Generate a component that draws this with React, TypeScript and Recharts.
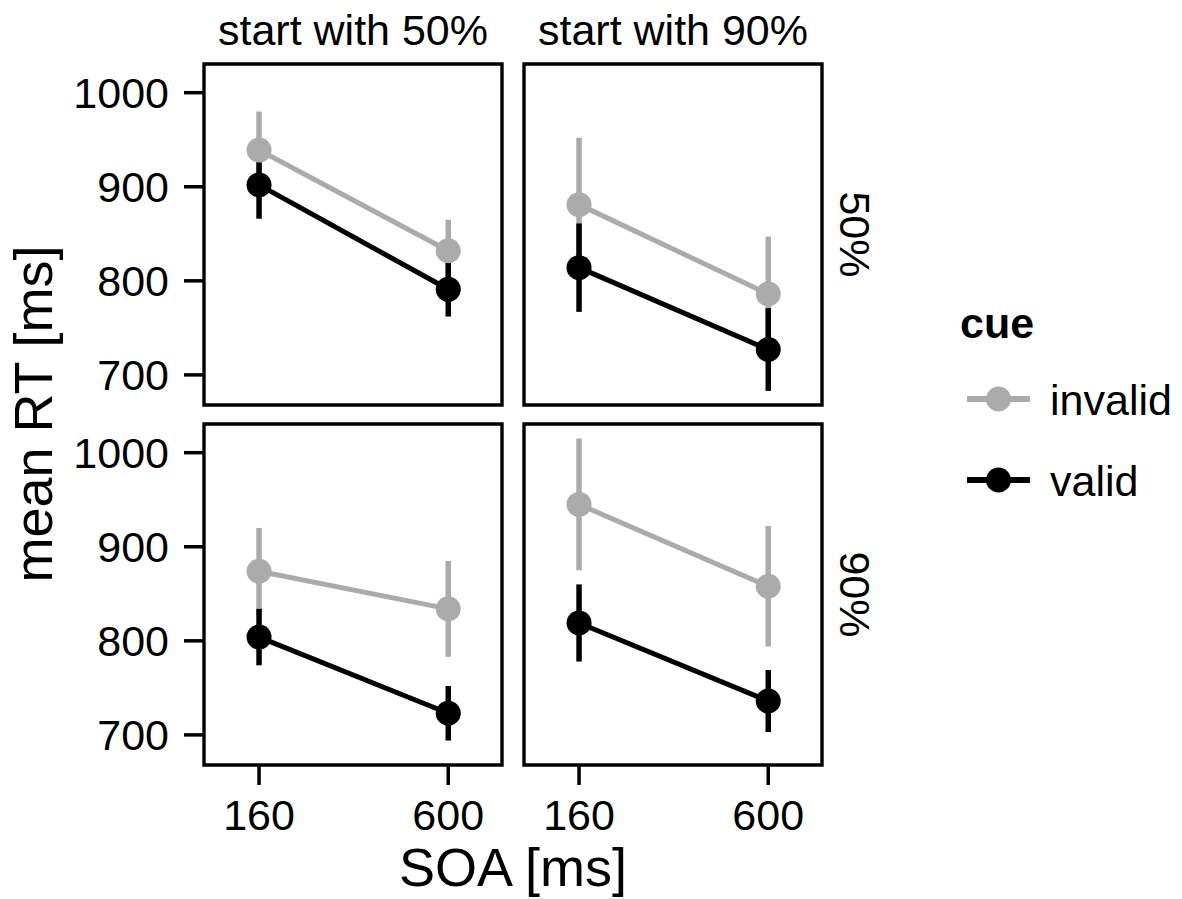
import React from "react";
import {ErrorBar, Line, LineChart, ReferenceArea, XAxis, YAxis} from "recharts";

// SOA levels on the x axis
const soaLevels = [160, 600];
const xTicks = [160, 600];
const yTicks = [700, 800, 900, 1000];

// facet strips
const colStrips = ["start with 50%", "start with 90%"];
const rowStrips = ["50%", "90%"];

// panel order: row 50% / start 50%, row 50% / start 90%, row 90% / start 50%, row 90% / start 90%
const invalidMean = [[939, 832], [881, 786], [874, 834], [945, 858]];
const invalidErr = [[41, 33], [71, 61], [46, 51], [70, 64]];
const validMean = [[902, 791], [814, 727], [804, 723], [819, 736]];
const validErr = [[36, 29], [47, 44], [30, 29], [41, 33]];

const cueNames = ["invalid", "valid"];
const cueColors = ["#ababab", "#000000"];

const X_DOMAIN = [32, 725];
const Y_DOMAIN = [668, 1030.5];

const PANEL_X = [204, 524];
const PANEL_Y = [64, 424];
const PANEL_W = 298;
const PANEL_H = 341;
const PAD = 4;
const Y_AXIS_W = 204;
const X_AXIS_H = 80;

const FONT = "'Liberation Sans', Arial, Helvetica, sans-serif";
const TICK_SIZE = 43;
const TITLE_SIZE = 54;

const Panel = ({row, col}: {row: number; col: number}) => {
	const idx = row * 2 + col;
	const data = soaLevels.map((soa, i) => ({
		soa,
		invalid: invalidMean[idx][i],
		invalidErr: invalidErr[idx][i],
		valid: validMean[idx][i],
		validErr: validErr[idx][i]
	}));

	const isLeft = col === 0;
	const isBottom = row === 1;
	const left = isLeft ? 0 : PANEL_X[1] - PAD;
	const top = PANEL_Y[row] - PAD;
	const width = isLeft ? PANEL_X[0] + PANEL_W + PAD : PANEL_W + 2 * PAD;
	const height = PAD + PANEL_H + (isBottom ? X_AXIS_H : PAD);

	return (
		<div style={{position: "absolute", left, top}}>
			<LineChart
				width={width}
				height={height}
				data={data}
				margin={{top: PAD, right: PAD, bottom: isBottom ? 0 : PAD, left: isLeft ? 0 : PAD}}
			>
				<XAxis
					dataKey="soa"
					type="number"
					domain={X_DOMAIN}
					ticks={xTicks}
					allowDataOverflow
					hide={!isBottom}
					height={X_AXIS_H}
					axisLine={false}
					tickSize={20}
					tickMargin={14}
					tickLine={{stroke: "#000", strokeWidth: 3.5}}
					tick={{fill: "#000", fontSize: TICK_SIZE}}
				/>
				<YAxis
					type="number"
					domain={Y_DOMAIN}
					ticks={yTicks}
					allowDataOverflow
					hide={!isLeft}
					width={Y_AXIS_W}
					axisLine={false}
					tickSize={20}
					tickMargin={15}
					tickLine={{stroke: "#000", strokeWidth: 3.5}}
					tick={{fill: "#000", fontSize: TICK_SIZE}}
				/>
				<ReferenceArea
					x1={X_DOMAIN[0]}
					x2={X_DOMAIN[1]}
					y1={Y_DOMAIN[0]}
					y2={Y_DOMAIN[1]}
					fill="none"
					stroke="#000"
					strokeWidth={3.4}
					ifOverflow="visible"
				/>
				{cueNames.map((name, i) => (
					<Line
						key={name}
						type="linear"
						dataKey={name}
						stroke={cueColors[i]}
						strokeWidth={5}
						dot={{r: 12.5, fill: cueColors[i], stroke: "none"}}
						activeDot={false}
						isAnimationActive={false}
					>
						<ErrorBar
							dataKey={name + "Err"}
							direction="y"
							width={0}
							stroke={cueColors[i]}
							strokeWidth={5.5}
							isAnimationActive={false}
						/>
					</Line>
				))}
			</LineChart>
		</div>
	);
};

const App = () => {
	return (
		<div style={{position: "absolute", left: 0, top: 0, width: 1182, height: 899, background: "#fff", fontFamily: FONT}}>
			{[0, 1].map(row => [0, 1].map(col => <Panel key={`${row}-${col}`} row={row} col={col}/>))}
			<svg width={1182} height={899} style={{position: "absolute", left: 0, top: 0, pointerEvents: "none"}}>
				{colStrips.map((label, c) => (
					<text key={label} x={PANEL_X[c] + PANEL_W / 2} y={45} textAnchor="middle" fontSize={TICK_SIZE} fill="#000">
						{label}
					</text>
				))}
				{rowStrips.map((label, r) => {
					const cy = PANEL_Y[r] + PANEL_H / 2;
					return (
						<text key={label} x={840} y={cy} textAnchor="middle" fontSize={TICK_SIZE} fill="#000"
							  transform={`rotate(90, 840, ${cy})`}>
							{label}
						</text>
					);
				})}
				<text x={52} y={414} textAnchor="middle" fontSize={TITLE_SIZE} fill="#000" transform="rotate(-90, 52, 414)">
					mean RT [ms]
				</text>
				<text x={513} y={886} textAnchor="middle" fontSize={TITLE_SIZE} fill="#000">
					SOA [ms]
				</text>
				<text x={960} y={338} fontSize={TICK_SIZE} fontWeight="bold" fill="#000">cue</text>
				{cueNames.map((name, i) => {
					const ky = 399 + i * 81;
					return (
						<g key={name}>
							<line x1={967} x2={1030} y1={ky} y2={ky} stroke={cueColors[i]} strokeWidth={6}/>
							<circle cx={998.5} cy={ky} r={12.5} fill={cueColors[i]}/>
							<text x={1050} y={ky + 16} fontSize={TICK_SIZE} fill="#000">{name}</text>
						</g>
					);
				})}
			</svg>
		</div>
	);
};

export default App;
